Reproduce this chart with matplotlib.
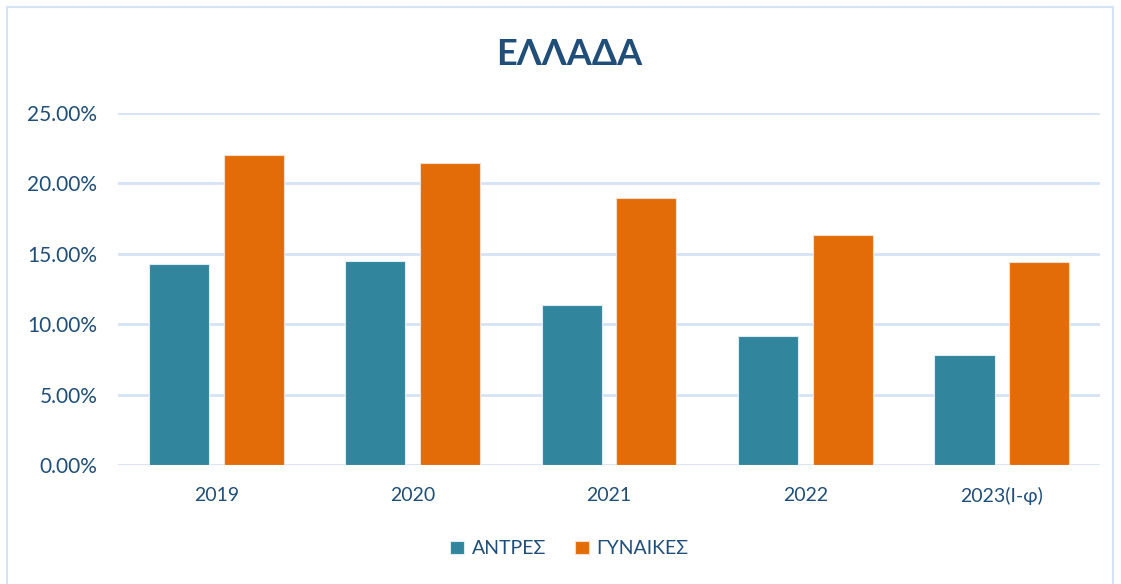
import matplotlib.pyplot as plt
import numpy as np
from matplotlib.patches import Rectangle
from matplotlib.ticker import FuncFormatter

plt.rcParams['font.family'] = ['Lato', 'DejaVu Sans']

years = ['2019', '2020', '2021', '2022', '2023(Ι-φ)']
men = [14.28, 14.49, 11.36, 9.16, 7.81]
women = [22.02, 21.45, 18.96, 16.34, 14.42]

txt = '#1F4E79'
grid = '#D6E3F5'

fig = plt.figure(figsize=(11.21, 5.84), dpi=100)
ax = fig.add_axes([0.1053, 0.2038, 0.876, 0.6027])

x = np.arange(len(years))
w = 0.306
ax.bar(x - 0.19, men, w, color='#31859C', edgecolor='#DDEBF2', linewidth=0.8,
       label='ΑΝΤΡΕΣ', zorder=3)
ax.bar(x + 0.19, women, w, color='#E36C09', edgecolor='#F2DCCB', linewidth=0.8,
       label='ΓΥΝΑΙΚΕΣ', zorder=3)

ax.set_xlim(-0.5, len(years) - 0.5)
ax.set_ylim(0, 25)
ax.set_yticks(np.arange(0, 26, 5))
ax.yaxis.set_major_formatter(FuncFormatter(lambda v, p: f'{v:.2f}%'))
ax.set_xticks(x)
ax.set_xticklabels(years)
ax.grid(axis='y', color=grid, linewidth=2, zorder=0)
for s in ax.spines.values():
    s.set_visible(False)
ax.tick_params(axis='both', length=0, labelsize=14, labelcolor=txt)
ax.tick_params(axis='y', labelsize=15, pad=15)
ax.tick_params(axis='x', pad=16)

fig.text(0.508, 0.906, 'ΕΛΛΑΔΑ', ha='center', va='center', fontsize=26,
         fontweight='bold', color=txt)

fig.legend(loc='center', bbox_to_anchor=(0.508, 0.06), ncol=2, frameon=False,
           fontsize=14, labelcolor=txt, handlelength=0.7, handleheight=0.7,
           columnspacing=1.5, handletextpad=0.4)

fig.patches.append(Rectangle((7 / 1121, -0.01), 1106 / 1121, 1 - 7 / 584 + 0.01,
                             transform=fig.transFigure, fill=False,
                             edgecolor=grid, linewidth=1.5))

fig.savefig('out.png', dpi=100)
